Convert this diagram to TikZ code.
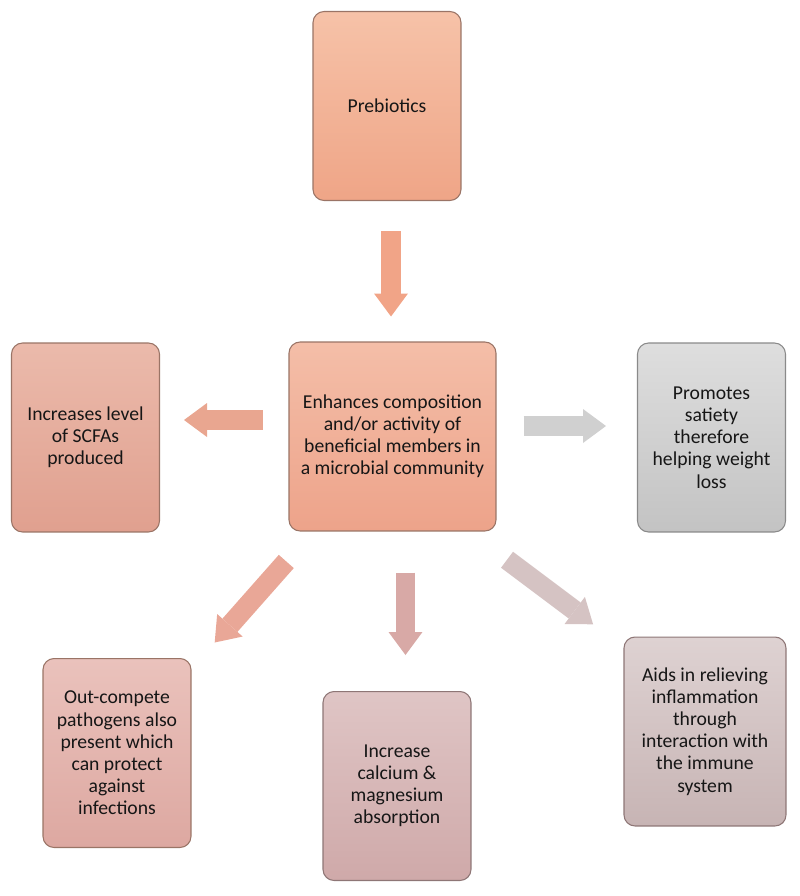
\documentclass[tikz,border=0pt]{standalone}
\usepackage{fontspec}
\setmainfont{Carlito}
\usepackage{tikz}
\usepackage{xcolor}
\usetikzlibrary{arrows.meta}

\definecolor{txt}{HTML}{161616}
\definecolor{salmonline}{HTML}{9A7466}
\definecolor{greyline}{HTML}{8A8A8A}
\definecolor{mauveline}{HTML}{8E7676}
\definecolor{preA}{HTML}{F6C2A8}
\definecolor{preB}{HTML}{EFA587}
\definecolor{scfaA}{HTML}{EBBAAB}
\definecolor{scfaB}{HTML}{E0A08F}
\definecolor{midA}{HTML}{F4BEA8}
\definecolor{midB}{HTML}{EDA38A}
\definecolor{satA}{HTML}{DEDEDE}
\definecolor{satB}{HTML}{C3C3C3}
\definecolor{blA}{HTML}{EAC2BC}
\definecolor{blB}{HTML}{DDA8A1}
\definecolor{bmA}{HTML}{DFC5C5}
\definecolor{bmB}{HTML}{CFA9A9}
\definecolor{brA}{HTML}{DED2D2}
\definecolor{brB}{HTML}{C7B4B4}
\definecolor{arrdown}{HTML}{F1A487}
\definecolor{arrleft}{HTML}{E9A690}
\definecolor{arrright}{HTML}{D0D0D0}
\definecolor{arrbl}{HTML}{E9A797}
\definecolor{arrbm}{HTML}{D8A9A6}
\definecolor{arrbr}{HTML}{D5C3C3}

\begin{document}
\begin{tikzpicture}[x=0.02cm, y=0.02cm,
    box/.style={draw=salmonline, line width=0.6pt, rounded corners=0.22cm, align=center, inner sep=0pt,
        text=txt, font=\fontsize{11.2}{12.6}\selectfont, minimum width=2.96cm, minimum height=3.78cm},
    bigarrow/.style={line width=0.4cm, -{Triangle[length=0.46cm, width=0.68cm, line width=0pt]}}]
    \useasboundingbox (0,0) rectangle (800,-896);
    \node [box, top color=preA, bottom color=preB] (pre) at (387,-106) {Prebiotics};
    \node [box, top color=scfaA, bottom color=scfaB] (scfa) at (85.5,-437.5) {Increases level\\of SCFAs\\produced};
    \node [box, top color=midA, bottom color=midB, minimum width=4.14cm] (mid) at (392.5,-436.5) {Enhances composition\\and/or activity of\\beneficial members in\\a microbial community};
    \node [box, draw=greyline, top color=satA, bottom color=satB] (sat) at (711.5,-437.5) {Promotes\\satiety\\therefore\\helping weight\\loss};
    \node [box, top color=blA, bottom color=blB] (bl) at (117,-753) {Out-compete\\pathogens also\\present which\\can protect\\against\\infections};
    \node [box, draw=mauveline, top color=bmA, bottom color=bmB] (bm) at (397,-786) {Increase\\calcium \&\\magnesium\\absorption};
    \node [box, draw=mauveline, top color=brA, bottom color=brB, minimum width=3.24cm] (br) at (705,-731.5) {Aids in relieving\\inflammation\\through\\interaction with\\the immune\\system};
    \draw [bigarrow, arrdown, shorten <=0.6cm, shorten >=0.5cm] ([xshift=0.08cm]pre.south) -- ([xshift=0.08cm]pre.south |- mid.north);
    \draw [bigarrow, arrleft, shorten <=0.52cm, shorten >=0.48cm] ([yshift=0.33cm]mid.west) -- ([yshift=0.33cm]mid.west -| scfa.east);
    \draw [bigarrow, arrright, shorten <=0.54cm, shorten >=0.62cm] ([yshift=0.21cm]mid.east) -- ([yshift=0.21cm]mid.east -| sat.west);
    \draw [bigarrow, arrbl, shorten <=0.8cm, shorten >=0.7cm] (mid.230) -- (bl);
    \draw [bigarrow, arrbm, shorten <=0.82cm, shorten >=0.72cm] ([xshift=0.26cm]mid.south) -- ([xshift=0.26cm]mid.south |- bm.north);
    \draw [bigarrow, arrbr, shorten <=0.94cm, shorten >=0.76cm] (mid.309) -- (br.134);
\end{tikzpicture}
\end{document}
